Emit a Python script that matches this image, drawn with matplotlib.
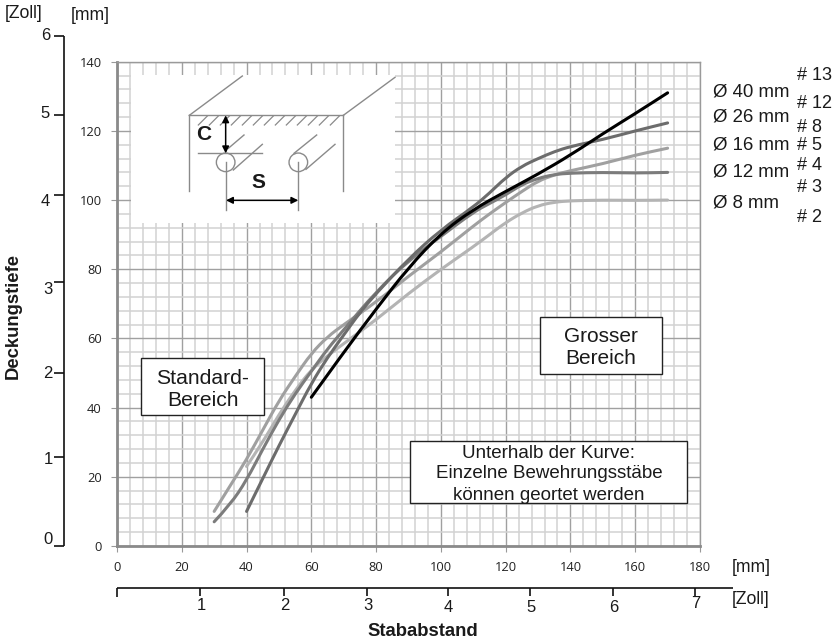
import matplotlib
matplotlib.use('Agg')
import matplotlib.pyplot as plt
from matplotlib.patches import Circle, PathPatch, Rectangle
from matplotlib.path import Path

plt.rcParams['font.family'] = ['Liberation Sans', 'DejaVu Sans']

W, H = 833, 641

# curves, x = spacing [mm], y = cover depth [mm]
x_40 = [60, 70, 80, 90, 100, 110, 120, 130, 140, 150, 160, 170]
y_40 = [43, 56, 68.5, 80.5, 90.4, 97.3, 102.5, 107.5, 113, 119.2, 125, 131]

x_26 = [40, 45, 50, 55, 60, 65, 70, 75, 80, 90, 100, 110, 115, 120, 125, 130, 135, 140, 150, 160, 170]
y_26 = [10, 19.5, 29, 38, 47, 54.5, 61, 67.5, 73, 83, 91.4, 98, 102, 106.5, 109.8, 112, 114, 115.5, 117.5, 120, 122.3]

x_16 = [30, 35, 40, 45, 50, 55, 60, 65, 70, 80, 90, 100, 110, 115, 120, 125, 130, 135, 140, 150, 160, 170]
y_16 = [7, 12, 19, 28, 36.5, 44, 50.5, 57, 62.5, 73.5, 82.5, 89.5, 96.5, 99, 101.5, 104.5, 106.3, 107.4, 107.8, 108, 107.8, 108]

x_12 = [30, 35, 40, 45, 50, 55, 60, 65, 70, 80, 90, 100, 110, 115, 120, 125, 130, 135, 140, 150, 160, 170]
y_12 = [10, 17.5, 25, 33.5, 42, 49, 55.7, 60.5, 64, 70.5, 78, 85, 92.5, 96, 99.3, 102.5, 105.5, 107.3, 108.5, 110.5, 113, 115]

x_8 = [40, 45, 50, 55, 60, 65, 70, 80, 90, 100, 110, 115, 120, 125, 130, 135, 140, 150, 160, 170]
y_8 = [23, 30, 38, 45, 51, 55, 58.5, 65.4, 73, 80, 86.5, 90, 93.5, 96.3, 98.4, 99.4, 99.8, 100, 99.9, 100]

series_x = [x_8, x_12, x_16, x_26, x_40]
series_y = [y_8, y_12, y_16, y_26, y_40]
series_colors = ['#b4b4b4', '#a0a0a0', '#7c7c7c', '#6c6c6c', '#000000']

mm_x_ticks = list(range(0, 181, 20))
mm_y_ticks = list(range(0, 141, 20))

# hand drawn inch scales, they are not quite even in the picture
zoll_y_px = [545.7, 457, 372.7, 281.7, 194.7, 114.7, 36]
zoll_y_label_px = [540, 460, 373, 289, 202, 114, 35]
zoll_y_label_right = [53, 53, 53, 53, 50, 50, 50]
zoll_x_px = [200, 283.7, 367, 447.7, 530, 612.7, 695]
zoll_x_label_y = [606, 606, 606, 607, 607, 607, 603]

diam_labels = ['Ø 40 mm', 'Ø 26 mm', 'Ø 16 mm', 'Ø 12 mm', 'Ø 8 mm']
diam_y_px = [92, 117, 145, 172, 203]
size_labels = ['# 13', '# 12', '# 8', '# 5', '# 4', '# 3', '# 2']
size_y_px = [76, 103, 127, 145, 166, 187, 218]


def smooth_curve(xs, ys):
    # quadratic segments between midpoints, so the read values stay as they are
    verts = [(xs[0], ys[0])]
    codes = [Path.MOVETO]
    for i in range(1, len(xs) - 1):
        verts.append((xs[i], ys[i]))
        verts.append(((xs[i] + xs[i + 1]) / 2, (ys[i] + ys[i + 1]) / 2))
        codes += [Path.CURVE3, Path.CURVE3]
    verts.append((xs[-1], ys[-1]))
    codes.append(Path.LINETO)
    return Path(verts, codes)


fig = plt.figure(figsize=(W / 100, H / 100), dpi=100)

# main mm chart
left, right, top, bottom = 117, 700, 61.7, 546
ax = fig.add_axes([left / W, 1 - bottom / H, (right - left) / W, (bottom - top) / H])
ax.set_xlim(0, 180)
ax.set_ylim(0, 140)
ax.set_xticks(mm_x_ticks)
ax.set_yticks(mm_y_ticks)
ax.set_xticks(range(0, 181, 4), minor=True)
ax.set_yticks(range(0, 141, 4), minor=True)
ax.grid(which='minor', color='#d2d2d2', lw=1.1)
ax.grid(which='major', color='#a0a0a0', lw=1.0)
ax.set_axisbelow(True)
ax.tick_params(which='minor', length=0)
ax.tick_params(which='major', length=4, width=0.8, color='#999999', pad=7,
               labelsize=9.3, labelcolor='#222222')
for lab in ax.get_xticklabels() + ax.get_yticklabels():
    lab.set_family('Open Sans')
for side in ['top', 'right']:
    ax.spines[side].set_color('#9a9a9a')
    ax.spines[side].set_linewidth(1.0)
for side in ['left', 'bottom']:
    ax.spines[side].set_color('#8a8a8a')
    ax.spines[side].set_linewidth(2.0)

for xs, ys, c in zip(series_x, series_y, series_colors):
    ax.add_patch(PathPatch(smooth_curve(xs, ys), fc='none', ec=c, lw=2.2, capstyle='round', zorder=3))

# overlay in picture pixels for the sketch, boxes and loose labels
ov = fig.add_axes([0, 0, 1, 1], facecolor='none')
ov.set_xlim(0, W)
ov.set_ylim(H, 0)
ov.axis('off')


def txt(x, y, s, size=13, ha='left', **kw):
    ov.text(x, y, s, fontsize=size, ha=ha, va='center', color='#1a1a1a', **kw)


def box(x0, y0, x1, y1, lw=1.0, ec='#222222'):
    ov.add_patch(Rectangle((x0, y0), x1 - x0, y1 - y0, fc='white', ec=ec, lw=lw, zorder=2))


# sketch, coordinates from the 3x crop
def zx(v):
    return 100 + v / 3


def zy(v):
    return 40 + v / 3


def seg(a, b, c, d, color='#8a8a8a', lw=1.0):
    ov.plot([zx(a), zx(c)], [zy(b), zy(d)], color=color, lw=lw, zorder=3)


ov.add_patch(Rectangle((zx(92), zy(105)), (885 - 92) / 3, (548 - 105) / 3, fc='white', ec='none', zorder=2))
seg(268, 226, 730, 226)
seg(268, 226, 268, 452)
seg(730, 226, 730, 452)
seg(268, 226, 427, 108)
seg(730, 226, 885, 112)
for i in range(13):
    seg(295 + i * 33, 255, 322 + i * 33, 228, lw=0.9)
seg(293, 339, 487, 339)
seg(385, 325, 432, 285)
seg(400, 390, 487, 313)
seg(582, 340, 650, 285)
seg(618, 388, 705, 313)
seg(377, 367, 377, 510)
seg(595, 367, 595, 510)
for cx in [377, 595]:
    ov.add_patch(Circle((zx(cx), zy(367)), 9.3, fc='none', ec='#8a8a8a', lw=1.0, zorder=3))
ov.annotate('', xy=(zx(377), zy(226)), xytext=(zx(377), zy(340)), zorder=4,
            arrowprops=dict(arrowstyle='<|-|>', color='black', lw=1.1, shrinkA=0, shrinkB=0, mutation_scale=10))
ov.annotate('', xy=(zx(378), zy(481)), xytext=(zx(595), zy(481)), zorder=4,
            arrowprops=dict(arrowstyle='<|-|>', color='black', lw=1.1, shrinkA=0, shrinkB=0, mutation_scale=10))
txt(zx(310), zy(282), 'C', size=15, ha='center', fontweight='bold')
txt(zx(476), zy(428), 'S', size=15, ha='center', fontweight='bold')

# text boxes
box(141, 358, 264.3, 415)
txt(203, 379, 'Standard-', size=15.2, ha='center')
txt(203, 400, 'Bereich', size=15.2, ha='center')
box(539.7, 316.7, 662.3, 373.7)
txt(601, 336, 'Grosser', size=15, ha='center')
txt(601, 358, 'Bereich', size=15, ha='center')
box(410.3, 440.7, 687.5, 502.7)
txt(549, 453, 'Unterhalb der Kurve:', size=13.5, ha='center')
txt(549, 474, 'Einzelne Bewehrungsstäbe', size=13.5, ha='center')
txt(549, 496, 'können geortet werden', size=13.5, ha='center')

# left inch scale
ov.plot([64, 64], [36, 546], color='#111111', lw=1.2, solid_capstyle='butt')
for i, p in enumerate(zoll_y_px):
    ov.plot([54, 64], [p, p], color='#111111', lw=1.2, solid_capstyle='butt')
    txt(zoll_y_label_right[i], zoll_y_label_px[i], str(i), size=12, ha='right')

# bottom inch scale
ov.plot([117, 733], [588, 588], color='#111111', lw=1.2, solid_capstyle='butt')
ov.plot([117, 117], [588, 597], color='#111111', lw=1.2, solid_capstyle='butt')
for i, p in enumerate(zoll_x_px):
    ov.plot([p, p], [588, 596], color='#111111', lw=1.2, solid_capstyle='butt')
    txt(p + 1, zoll_x_label_y[i], str(i + 1), size=12, ha='center')

# unit labels and axis titles
txt(5, 14, '[Zoll]', size=12.7)
txt(71, 16, '[mm]', size=12.7)
txt(732, 568, '[mm]', size=12.7)
txt(732, 600, '[Zoll]', size=12.7)
txt(13, 316, 'Deckungstiefe', size=13.3, ha='center', rotation=90, fontweight='bold')
txt(423, 631, 'Stababstand', size=13.3, ha='center', fontweight='bold')

# bar diameter and size labels on the right
for s, y in zip(diam_labels, diam_y_px):
    txt(713, y, s, size=13.4)
for s, y in zip(size_labels, size_y_px):
    txt(797, y, s, size=13)

fig.savefig('out.png', dpi=100)
